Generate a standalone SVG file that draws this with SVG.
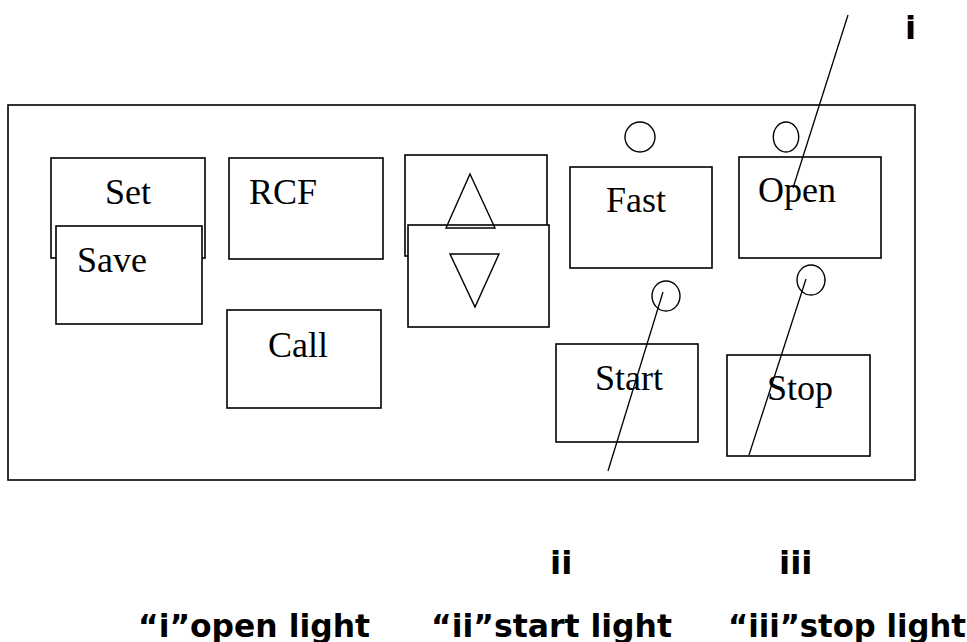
<svg xmlns="http://www.w3.org/2000/svg" width="967" height="642" viewBox="0 0 967 642">
<style>
.box{fill:#fff;stroke:#000;stroke-width:1.6}
.tri{fill:none;stroke:#000;stroke-width:1.4}
.led{fill:#fff;stroke:#000;stroke-width:1.4}
.btn{font-family:"Liberation Serif","Times New Roman",serif;font-size:36px;fill:#000}
.lbl{font-family:"DejaVu Sans",Verdana,sans-serif;font-weight:bold;font-size:32.5px;fill:#000}
.ln{stroke:#000;stroke-width:1.3;fill:none}
</style>
<rect width="967" height="642" fill="#fff"/>
<g id="panel"><rect class="box" x="8" y="105" width="907" height="375"/></g>
<g id="set"><rect class="box" x="51" y="158" width="154" height="100"/><text class="btn" x="105" y="204">Set</text></g>
<g id="save"><rect class="box" x="56" y="226" width="146" height="98"/><text class="btn" x="77" y="272">Save</text></g>
<g id="rcf"><rect class="box" x="229" y="158" width="154" height="101"/><text class="btn" x="249" y="204">RCF</text></g>
<g id="call"><rect class="box" x="227" y="310" width="154" height="98"/><text class="btn" x="268" y="357">Call</text></g>
<g id="up"><rect class="box" x="405" y="155" width="142" height="101"/></g>
<g id="down"><rect class="box" x="408" y="225" width="141" height="102"/><polygon class="tri" points="450,254 499,254 475,307"/></g>
<g id="upTri"><polygon class="tri" points="470,174 495,228 446,228"/></g>
<g id="fast"><rect class="box" x="570" y="167" width="142" height="101"/><text class="btn" x="606" y="212">Fast</text></g>
<g id="open"><rect class="box" x="739" y="157" width="142" height="101"/><text class="btn" x="758" y="202">Open</text></g>
<g id="start"><rect class="box" x="556" y="344" width="142" height="98"/><text class="btn" x="595" y="390">Start</text></g>
<g id="stop"><rect class="box" x="727" y="355" width="143" height="101"/><text class="btn" x="767" y="400">Stop</text></g>
<g id="lights">
<ellipse class="led" cx="640" cy="137" rx="15" ry="15"/>
<ellipse class="led" cx="786" cy="137" rx="12.7" ry="15"/>
<ellipse class="led" cx="666" cy="296" rx="14" ry="15"/>
<ellipse class="led" cx="811" cy="280" rx="14" ry="15"/>
</g>
<g id="connectors">
<line class="ln" x1="848" y1="15" x2="793" y2="188"/>
<line class="ln" x1="663" y1="292" x2="608" y2="471"/>
<line class="ln" x1="806" y1="279" x2="749" y2="455"/>
</g>
<g id="labels">
<text class="lbl" x="905" y="39">i</text>
<text class="lbl" x="550" y="574">ii</text>
<text class="lbl" x="779" y="574">iii</text>
<text class="lbl" x="138" y="637" textLength="232" lengthAdjust="spacingAndGlyphs">“i”open light</text>
<text class="lbl" x="431" y="637" textLength="241" lengthAdjust="spacingAndGlyphs">“ii”start light</text>
<text class="lbl" x="728" y="637" textLength="238" lengthAdjust="spacingAndGlyphs">“iii”stop light</text>
</g>
</svg>
